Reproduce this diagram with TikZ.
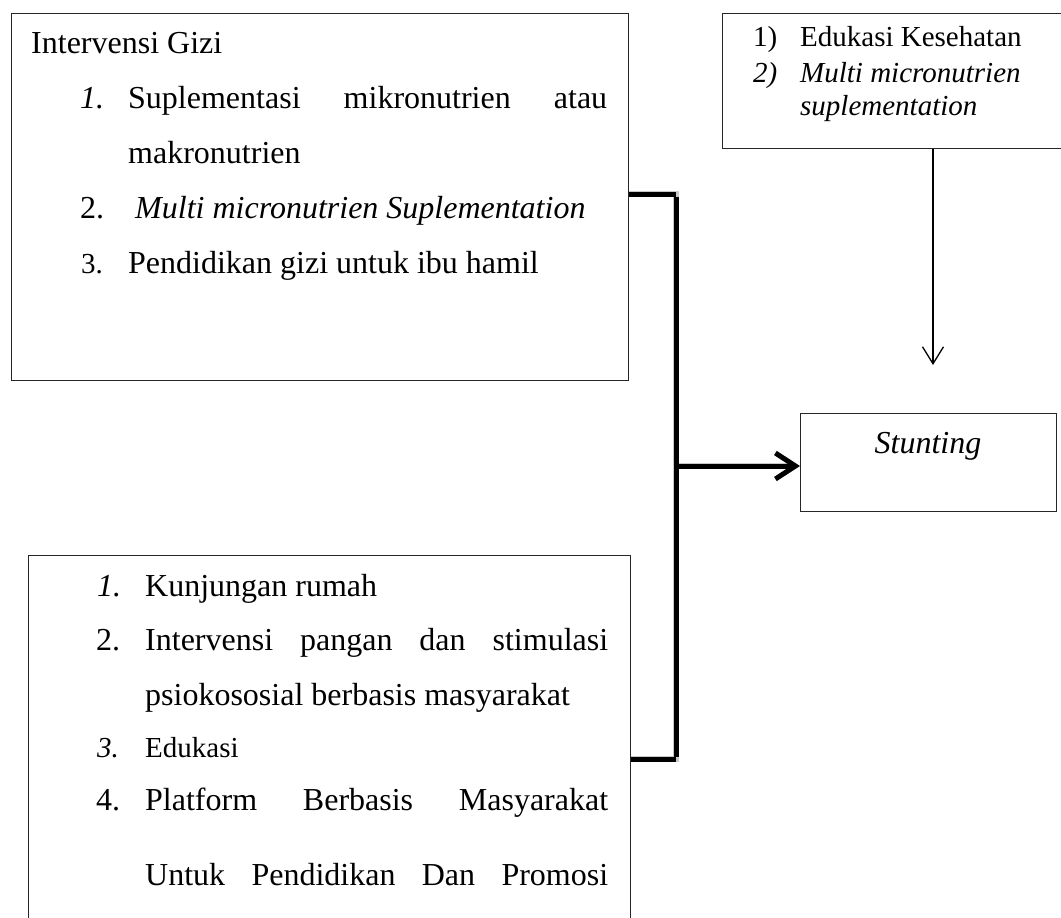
\documentclass[tikz,border=0pt]{standalone}
\usepackage{fontspec}
\setmainfont{Liberation Serif}
\usetikzlibrary{arrows.meta}

\tikzset{
  panel/.style={draw=black!85, line width=1.2pt, fill=white, inner sep=0pt, anchor=north west},
  txt/.style={inner sep=0pt, anchor=base west, font=\fontsize{32}{38}\selectfont},
  txtsm/.style={inner sep=0pt, anchor=base west, font=\fontsize{29}{35}\selectfont},
  txtrt/.style={inner sep=0pt, anchor=base west, font=\fontsize{29}{35}\selectfont},
  bracketline/.style={line width=5pt, black},
  bracketshade/.style={line width=6pt, black!30, opacity=0.7},
  thinarrow/.style={line width=1.3pt, -{Straight Barb[length=17pt,width=21pt,line width=1.3pt]}},
  thickarrow/.style={line width=5pt, -{Straight Barb[length=20pt,width=26pt,line width=5pt]}}
}

\begin{document}
\begin{tikzpicture}[x=1pt,y=-1pt]
\clip (0,0) rectangle (1061,918);
\fill[white] (0,0) rectangle (1061,918);

% boxes
\node[panel, minimum width=617pt, minimum height=367pt] (gizi) at (11,13) {};
\node[panel, minimum width=348pt, minimum height=135pt] (edukasi) at (722,13) {};
\node[panel, minimum width=256pt, minimum height=98pt] (stunting) at (800,413) {};
\node[panel, minimum width=602pt, minimum height=380pt] (komunitas) at (28,555) {};

% nutrition intervention list
\node[txt] (g0) at (31,53) {Intervensi Gizi};
\node[txt] (g1n) at (80,108) {\itshape 1.};
\node[txt] (g1) at (128,108) {\hbox to 479pt{Suplementasi\hfill mikronutrien\hfill atau}};
\node[txt] (g1b) at (128,163) {makronutrien};
\node[txt] (g2n) at (80,218) {2.};
\node[txt] (g2) at (135,218) {\itshape Multi micronutrien Suplementation};
\node[txtsm] (g3n) at (81,273) {3.};
\node[txt] (g3) at (128,273) {Pendidikan gizi untuk ibu hamil};

% health education list
\node[txtrt] (e1n) at (753,46) {1)};
\node[txtrt] (e1) at (800,46) {Edukasi Kesehatan};
\node[txtrt] (e2n) at (753,82) {\itshape 2)};
\node[txtrt] (e2) at (800,82) {\itshape Multi micronutrien};
\node[txtrt] (e2b) at (800,115) {\itshape suplementation};

% outcome
\node[inner sep=0pt, anchor=base, font=\fontsize{32}{38}\selectfont\itshape] (st) at (928,453) {Stunting};

% community list
\node[txt] (k1n) at (97,596) {\itshape 1.};
\node[txt] (k1) at (145,596) {Kunjungan rumah};
\node[txt] (k2n) at (96,650) {2.};
\node[txt] (k2) at (145,650) {\hbox to 463pt{Intervensi\hfill pangan\hfill dan\hfill stimulasi}};
\node[txt] (k2b) at (145,705) {psiokososial berbasis masyarakat};
\node[txtsm] (k3n) at (97,757) {\itshape 3.};
\node[txtsm] (k3) at (145,757) {Edukasi};
\node[txt] (k4n) at (96,810) {4.};
\node[txt] (k4) at (145,810) {\hbox to 463pt{Platform\hfill Berbasis\hfill Masyarakat}};
\node[txt] (k4b) at (145,885) {\hbox to 463pt{Untuk\hfill Pendidikan\hfill Dan\hfill Promosi}};

% joint points of the bracket
\coordinate (jt) at (676,194);
\coordinate (jb) at (676,759);
\coordinate (jm) at (676,466);
\coordinate (tipdown) at (933,365);

% soft shadow under the bracket
\begin{scope}[shift={(1.5,3.5)}]
  \draw[bracketshade] (gizi.east |- jt) -- (jt) -- (jb) -- (komunitas.east |- jb);
  \draw[bracketshade] (jm) -- ([xshift=-8pt]jm -| stunting.west);
\end{scope}

% bracket joining both lists
\draw[bracketline] (gizi.east |- jt) -- (jt);
\draw[bracketline] ([yshift=-2.5pt]jt) -- ([yshift=2.5pt]jb);
\draw[bracketline] (jb) -- (komunitas.east |- jb);

% arrows into the outcome
\draw[thickarrow] (jm) -- (jm -| stunting.west);
\draw[thinarrow] (edukasi.south -| tipdown) -- (tipdown);
\end{tikzpicture}
\end{document}
